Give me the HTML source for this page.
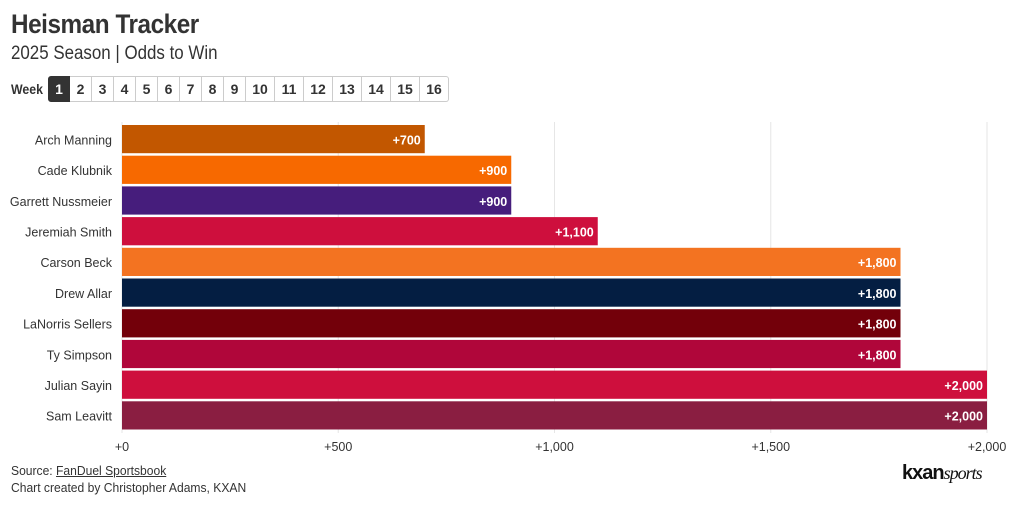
<!DOCTYPE html>
<html><head><meta charset="utf-8"><style>
body{margin:0;width:1020px;height:506px;background:#fff;font-family:"Liberation Sans Narrow","Liberation Sans",sans-serif;color:#333;overflow:hidden;position:relative}
.t{position:absolute;left:11px;top:9px;font-size:27px;font-weight:bold;color:#333;letter-spacing:-0.5px;transform:scaleX(0.9);transform-origin:left}
.s{position:absolute;left:11px;top:43px;font-size:19px;color:#333;transform:scaleX(0.89);transform-origin:left}
.wk{position:absolute;left:11px;top:81px;font-size:14px;font-weight:bold;transform:scaleX(0.88);transform-origin:left}
.btn{position:absolute;top:76px;height:26px;box-sizing:border-box;border:1px solid #ccc;border-left:none;font-size:14px;font-weight:bold;text-align:center;line-height:24px;background:#fff}
.btn.a{background:#333;color:#fff;border-color:#333}
.f{position:absolute;left:11px;font-size:13px;transform:scaleX(0.93);transform-origin:left}
</style></head><body>
<div class="t">Heisman Tracker</div>
<div class="s">2025 Season | Odds to Win</div>
<div class="wk">Week</div>
<div id="weeks"></div>
<svg id="c" width="1020" height="460" style="position:absolute;left:0;top:0"></svg>
<div class="f" style="top:463px">Source: <u>FanDuel Sportsbook</u></div>
<div class="f" style="top:480px">Chart created by Christopher Adams, KXAN</div>
<div style="position:absolute;left:902px;top:462px;font-size:20px;font-weight:bold;color:#111;letter-spacing:-1px">kxan<span style="font-style:italic;font-weight:normal;font-family:'Liberation Serif',serif;font-size:18px">sports</span></div>
<script>
const players=["Arch Manning","Cade Klubnik","Garrett Nussmeier","Jeremiah Smith","Carson Beck","Drew Allar","LaNorris Sellers","Ty Simpson","Julian Sayin","Sam Leavitt"];
const odds=[700,900,900,1100,1800,1800,1800,1800,2000,2000];
const colors=["#c25700","#f76900","#461d7c","#ce0f3d","#f37321","#041e42","#73000a","#b0063a","#ce0f3d","#8a1e41"];
const ticks=[0,500,1000,1500,2000];
const weeks=[1,2,3,4,5,6,7,8,9,10,11,12,13,14,15,16];
const NS="http://www.w3.org/2000/svg";
const svg=document.getElementById('c');
const x=v=>122+v*(865/2000);
const rowTop=124, rowH=30.7;
const y=i=>rowTop+i*rowH;
function mk(t,a){const e=document.createElementNS(NS,t);for(const k in a)e.setAttribute(k,a[k]);svg.appendChild(e);return e;}
const fmt=v=>"+"+v.toLocaleString('en-US');
ticks.forEach(t=>{
 const g=mk('line',{x1:x(t),x2:x(t),y1:122,y2:433,stroke:'#e6e6e6'});
 
 
 const l=mk('text',{x:x(t),y:451,'text-anchor':'middle','font-size':12.5,fill:'#333'});
 l.textContent=fmt(t);
 
 
});
players.forEach((p,i)=>{
 const r=mk('rect',{x:x(0),y:y(i)+1,width:x(odds[i])-x(0),height:rowH-2.5,fill:colors[i]});
 
 
 const n=mk('text',{x:112,y:y(i)+rowH/2+5,'text-anchor':'end','font-size':12.5,fill:'#333'});
 n.textContent=p;
 
 
 const v=mk('text',{x:x(odds[i])-4,y:y(i)+rowH/2+5,'text-anchor':'end','font-size':12.5,'font-weight':'bold',fill:'#fff'});
 v.textContent=fmt(odds[i]);
 
 
});
const wc=document.getElementById('weeks');
let left=48;
weeks.forEach(w=>{
 const wd=w<10?22:29;
 const b=document.createElement('div');
 b.className='btn'+(w===1?' a':'');
 b.style.left=left+'px';b.style.width=wd+'px';
 if(w===1){b.style.borderLeft='1px solid #333';b.style.borderRadius='3px 0 0 3px';}
 if(w===16){b.style.borderRadius='0 3px 3px 0';}
 b.textContent=w;
 
 
 wc.appendChild(b);left+=wd;
});
</script>
</body></html>
